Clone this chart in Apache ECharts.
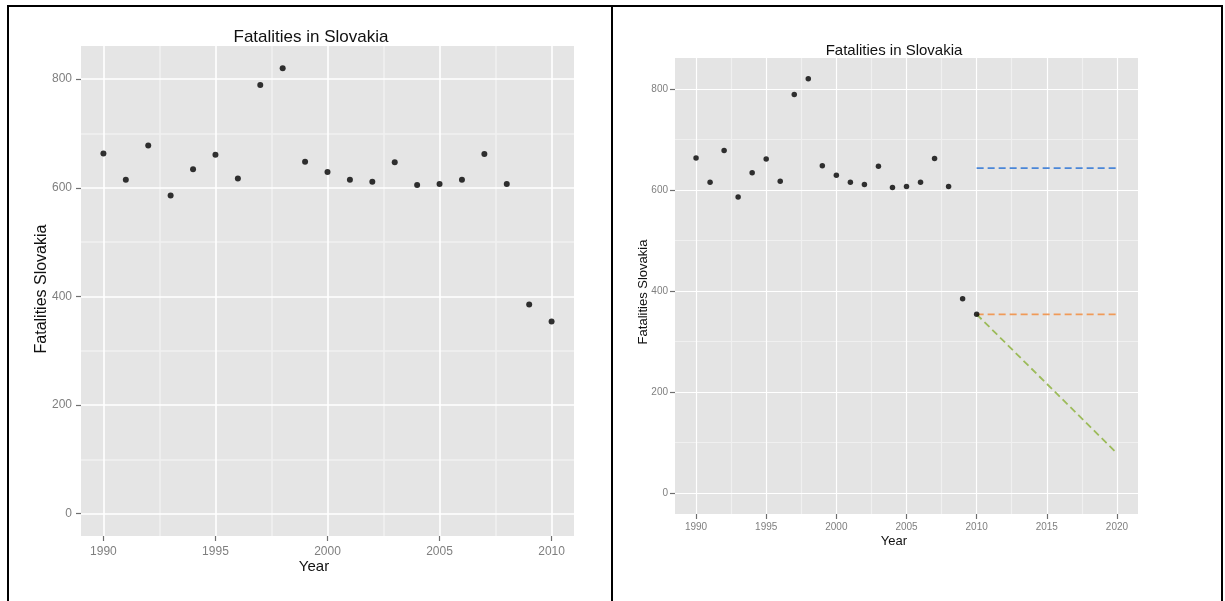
<!DOCTYPE html>
<html>
<head>
<meta charset="utf-8">
<script src="https://cdn.jsdelivr.net/npm/echarts@6/dist/echarts.min.js"></script>
<style>
html,body{margin:0;padding:0;background:#fff;}
#chart{width:1225px;height:601px;}
</style>
</head>
<body>
<div id="chart"></div>
<script>
// ---- data ----
var years = [1990,1991,1992,1993,1994,1995,1996,1997,1998,1999,2000,2001,2002,2003,2004,2005,2006,2007,2008,2009,2010];
var fatalities = [663,615,678,586,634,661,617,789,820,648,629,615,611,647,605,607,615,662,607,385,354];
var forecastYears = [2010, 2020];
var meanForecast = [643, 643];
var naiveForecast = [354, 354];
var driftForecast = [354, 79];
var leftXTicks = [1990,1995,2000,2005,2010];
var leftXMinor = [1992.5,1997.5,2002.5,2007.5];
var rightXTicks = [1990,1995,2000,2005,2010,2015,2020];
var rightXMinor = [1992.5,1997.5,2002.5,2007.5,2012.5,2017.5];
var yTicks = [0,200,400,600,800];
var yMinor = [100,300,500,700];
var titleText = 'Fatalities in Slovakia';
var xTitle = 'Year';
var yTitle = 'Fatalities Slovakia';

var FONT = '"Liberation Sans", Arial, sans-serif';
var TICKCOL = '#7f7f7f';
var MINORCOL = '#f0f0f0';

function pairs(xs, ys){ return xs.map(function(x,i){ return [x, ys[i]]; }); }
function plain(v){ return String(v); }

function xAxes(gi, min, max, majors, minors, fs, margin, lw){
  return [
    {type:'value', gridIndex:gi, min:min, max:max, position:'bottom',
     axisLine:{show:false, onZero:false},
     axisTick:{show:true, inside:false, length:5, customValues:majors, lineStyle:{color:'#6f6f6f', width:1.2}},
     axisLabel:{show:true, customValues:majors, formatter:plain, margin:margin, color:TICKCOL, fontSize:fs, fontFamily:FONT},
     splitLine:{show:true, lineStyle:{color:'#ffffff', width:lw}}, z:1},
    {type:'value', gridIndex:gi, min:min, max:max, position:'top',
     axisLine:{show:false, onZero:false},
     axisTick:{show:false, customValues:minors},
     axisLabel:{show:false, customValues:minors},
     splitLine:{show:true, lineStyle:{color:MINORCOL, width:lw}}, z:0}
  ];
}
function yAxes(gi, fs, margin, lw){
  return [
    {type:'value', gridIndex:gi, min:-41, max:861, position:'left',
     axisLine:{show:false, onZero:false},
     axisTick:{show:true, inside:false, length:5, customValues:yTicks, lineStyle:{color:'#6f6f6f', width:1.2}},
     axisLabel:{show:true, customValues:yTicks, formatter:plain, margin:margin, color:TICKCOL, fontSize:fs, fontFamily:FONT},
     splitLine:{show:true, lineStyle:{color:'#ffffff', width:lw}}, z:1},
    {type:'value', gridIndex:gi, min:-41, max:861, position:'right',
     axisLine:{show:false, onZero:false},
     axisTick:{show:false, customValues:yMinor},
     axisLabel:{show:false, customValues:yMinor},
     splitLine:{show:true, lineStyle:{color:MINORCOL, width:lw}}, z:0}
  ];
}

var chart = echarts.init(document.getElementById('chart'), null, {renderer:'canvas'});

var option = {
  backgroundColor:'#ffffff',
  animation:false,
  grid:[
    {left:81, top:46, width:493, height:490, show:true, backgroundColor:'#e5e5e5', borderWidth:0},
    {left:675, top:58, width:463, height:456, show:true, backgroundColor:'#e4e4e4', borderWidth:0}
  ],
  xAxis: xAxes(0, 1989, 2011, leftXTicks, leftXMinor, 12, 10, 1.6)
         .concat(xAxes(1, 1988.5, 2021.5, rightXTicks, rightXMinor, 10, 8, 1.2)),
  yAxis: yAxes(0, 12, 9, 1.6).concat(yAxes(1, 10, 7, 1.2)),
  series:[
    {type:'scatter', xAxisIndex:0, yAxisIndex:0, data:pairs(years, fatalities),
     symbol:'circle', symbolSize:6, itemStyle:{color:'#000'}, z:5},
    {type:'scatter', xAxisIndex:2, yAxisIndex:2, data:pairs(years, fatalities),
     symbol:'circle', symbolSize:5.5, itemStyle:{color:'#000'}, z:5},
    {type:'line', xAxisIndex:2, yAxisIndex:2, data:pairs(forecastYears, meanForecast),
     showSymbol:false, symbol:'none', lineStyle:{color:'#4a86d8', width:1.8, type:[7,4]}, z:4},
    {type:'line', xAxisIndex:2, yAxisIndex:2, data:pairs(forecastYears, naiveForecast),
     showSymbol:false, symbol:'none', lineStyle:{color:'#f09a58', width:1.8, type:[7,4]}, z:4},
    {type:'line', xAxisIndex:2, yAxisIndex:2, data:pairs(forecastYears, driftForecast),
     showSymbol:false, symbol:'none', lineStyle:{color:'#9cbb5a', width:1.8, type:[7,4]}, z:4}
  ],
  graphic:[
    {type:'rect', shape:{x:7, y:5, width:1216, height:2}, style:{fill:'#000'}},
    {type:'rect', shape:{x:7, y:5, width:2, height:596}, style:{fill:'#000'}},
    {type:'rect', shape:{x:611, y:5, width:2, height:596}, style:{fill:'#000'}},
    {type:'rect', shape:{x:1221, y:5, width:2, height:596}, style:{fill:'#000'}},
    {type:'text', x:311, y:37, style:{text:titleText, font:'17px ' + FONT, fill:'#111', align:'center', verticalAlign:'middle', textAlign:'center', textVerticalAlign:'middle'}},
    {type:'text', x:314, y:567, style:{text:xTitle, font:'15px ' + FONT, fill:'#111', align:'center', verticalAlign:'middle', textAlign:'center', textVerticalAlign:'middle'}},
    {type:'text', x:42, y:289, rotation:Math.PI/2, style:{text:yTitle, font:'16px ' + FONT, fill:'#111', align:'center', verticalAlign:'middle', textAlign:'center', textVerticalAlign:'middle'}},
    {type:'text', x:894, y:51, style:{text:titleText, font:'15px ' + FONT, fill:'#111', align:'center', verticalAlign:'middle', textAlign:'center', textVerticalAlign:'middle'}},
    {type:'text', x:894, y:541, style:{text:xTitle, font:'13px ' + FONT, fill:'#111', align:'center', verticalAlign:'middle', textAlign:'center', textVerticalAlign:'middle'}},
    {type:'text', x:643, y:292, rotation:Math.PI/2, style:{text:yTitle, font:'13px ' + FONT, fill:'#111', align:'center', verticalAlign:'middle', textAlign:'center', textVerticalAlign:'middle'}}
  ]
};
chart.setOption(option);
</script>
</body>
</html>
